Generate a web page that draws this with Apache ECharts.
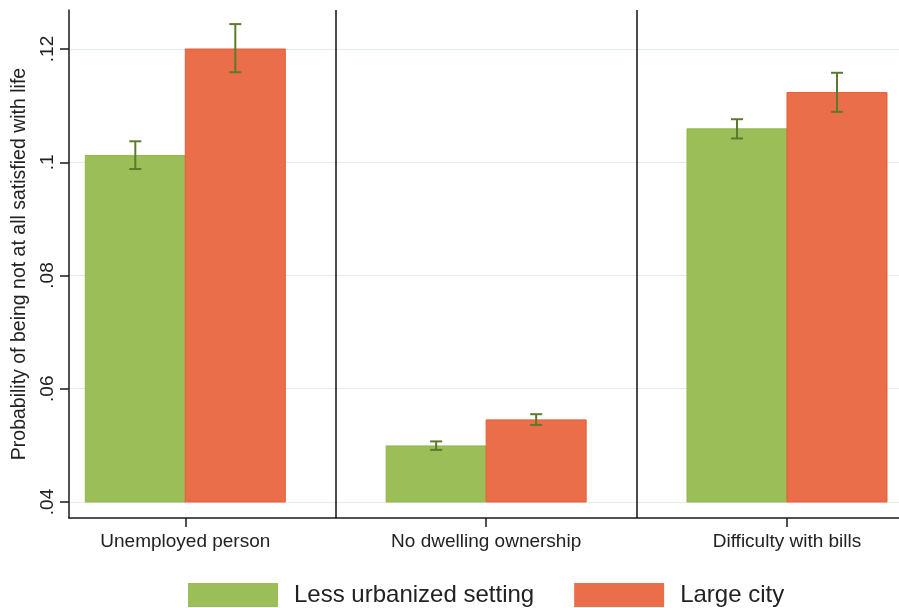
<!DOCTYPE html>
<html>
<head>
<meta charset="utf-8">
<script src="https://cdn.jsdelivr.net/npm/echarts@6/dist/echarts.min.js"></script>
<style>
html,body{margin:0;padding:0;background:#fff;}
#chart{width:899px;height:608px;}
</style>
</head>
<body>
<div id="chart"></div>
<script>
// ---- data ----
var categories = ['Unemployed person', 'No dwelling ownership', 'Difficulty with bills'];
var seriesNames = ['Less urbanized setting', 'Large city'];
var lessValues = [0.1012, 0.0499, 0.1059];
var lessLow    = [0.0988, 0.0492, 0.1042];
var lessHigh   = [0.1037, 0.0507, 0.1076];
var largeValues = [0.1200, 0.0545, 0.1123];
var largeLow    = [0.1159, 0.0536, 0.1089];
var largeHigh   = [0.1244, 0.0555, 0.1158];
var yTicks = [0.04, 0.06, 0.08, 0.10, 0.12];
var yTickLabels = ['.04', '.06', '.08', '.1', '.12'];
var barBase = 0.04;
var separators = [0.5, 1.5];

// ---- styles ----
var GREEN = '#9bbe58', GREEN_BORDER = '#91b84c';
var RED = '#eb6e4b', RED_BORDER = '#e65d37';
var ERR = '#5a7b2b';
var BAR_W = 100, CAP_W = 12;
var FONT = '"Liberation Sans", Arial, sans-serif';

function buildData(vals, lo, hi) {
  return categories.map(function (c, i) { return [i, vals[i], lo[i], hi[i]]; });
}

function makeRender(side, fill, border) {
  return function (params, api) {
    var x = api.value(0);
    var top = api.coord([x, api.value(1)]);
    var base = api.coord([x, barBase]);
    var lo = api.coord([x, api.value(2)]);
    var hi = api.coord([x, api.value(3)]);
    var x0 = side < 0 ? top[0] - BAR_W : top[0];
    var cx = x0 + BAR_W / 2;
    return {
      type: 'group',
      children: [
        { type: 'rect', shape: { x: x0, y: top[1], width: BAR_W, height: base[1] - top[1] },
          style: { fill: fill, stroke: border, lineWidth: 1 } },
        { type: 'line', shape: { x1: cx, y1: lo[1], x2: cx, y2: hi[1] },
          style: { stroke: ERR, lineWidth: 2 } },
        { type: 'line', shape: { x1: cx - CAP_W / 2, y1: lo[1], x2: cx + CAP_W / 2, y2: lo[1] },
          style: { stroke: ERR, lineWidth: 2 } },
        { type: 'line', shape: { x1: cx - CAP_W / 2, y1: hi[1], x2: cx + CAP_W / 2, y2: hi[1] },
          style: { stroke: ERR, lineWidth: 2 } }
      ]
    };
  };
}

var chart = echarts.init(document.getElementById('chart'), null, { renderer: 'canvas' });
chart.setOption({
  animation: false,
  backgroundColor: '#ffffff',
  grid: { left: 69, right: 0, top: 10, bottom: 90, containLabel: false, outerBoundsMode: 'none' },
  xAxis: {
    type: 'value',
    min: -0.3866, max: 2.3723,
    axisLine: { show: true, onZero: false, lineStyle: { color: '#1a1a1a', width: 1.5 } },
    axisTick: { show: true, length: 9, customValues: [0, 1, 2], lineStyle: { color: '#1a1a1a', width: 1.5 } },
    axisLabel: {
      customValues: [0, 1, 2],
      margin: 14,
      fontSize: 19, fontFamily: FONT, color: '#222',
      formatter: function (v) { return categories[Math.round(v)]; }
    },
    splitLine: { show: false }
  },
  yAxis: {
    type: 'value',
    min: 0.03717, max: 0.12689,
    name: 'Probability of being not at all satisfied with life',
    nameLocation: 'middle', nameGap: 39, nameRotate: 90, nameMoveOverlap: false,
    nameTextStyle: { fontSize: 19.5, fontFamily: FONT, color: '#222' },
    axisLine: { show: true, onZero: false, lineStyle: { color: '#1a1a1a', width: 1.5 } },
    axisTick: { show: true, length: 9, customValues: yTicks, lineStyle: { color: '#1a1a1a', width: 1.5 } },
    axisLabel: {
      customValues: yTicks,
      rotate: 90, margin: 12,
      fontSize: 19, fontFamily: FONT, color: '#222',
      formatter: function (v) {
        for (var k = 0; k < yTicks.length; k++) if (Math.abs(v - yTicks[k]) < 1e-6) return yTickLabels[k];
        return '';
      }
    },
    splitLine: { show: true, lineStyle: { color: '#e4ebed', width: 1 } }
  },
  legend: {
    left: 188, top: 583, padding: 0,
    itemWidth: 90, itemHeight: 24, itemGap: 40,
    icon: 'rect',
    textStyle: { fontSize: 24, fontFamily: FONT, color: '#222', padding: [6, 0, 0, 11] },
    data: seriesNames
  },
  series: [
    {
      name: seriesNames[0], type: 'custom', z: 3,
      renderItem: makeRender(-1, GREEN, GREEN_BORDER),
      itemStyle: { color: GREEN },
      encode: { x: 0, y: [1, 2, 3] },
      data: buildData(lessValues, lessLow, lessHigh),
      markLine: {
        silent: true, symbol: 'none', z: 5,
        label: { show: false },
        lineStyle: { color: '#111', width: 1.5, type: 'solid' },
        data: separators.map(function (s) { return { xAxis: s }; })
      }
    },
    {
      name: seriesNames[1], type: 'custom', z: 3,
      renderItem: makeRender(1, RED, RED_BORDER),
      itemStyle: { color: RED },
      encode: { x: 0, y: [1, 2, 3] },
      data: buildData(largeValues, largeLow, largeHigh)
    }
  ]
});
</script>
</body>
</html>
